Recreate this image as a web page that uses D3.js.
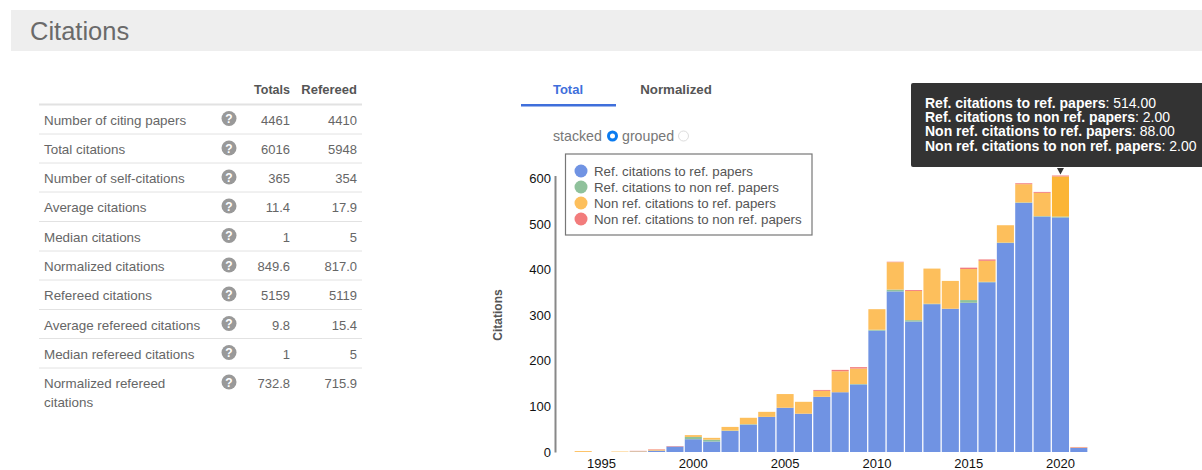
<!DOCTYPE html>
<html>
<head>
<meta charset="utf-8">
<script src="https://cdn.jsdelivr.net/npm/d3@7"></script>
<style>
  body { margin: 0; background: #fff; }
  svg { display: block; font-family: "Liberation Sans", Arial, sans-serif; }
</style>
</head>
<body>
<svg width="1202" height="470"></svg>
<script>
const years = d3.range(1994, 2022);
const refToRef       = [0,0,0,1,3,12,28,23,46,60,77,97,84,121,131,148,266,352,286,324,314,327,372,458,546,516,514,9];
const refToNonRef    = [0,0,0,0,0,0,5,4,1,1,0,0,0,0,0,1,2,4,3,1,0,6,1,1,1,1,2,0];
const nonRefToRef    = [2,0,1,1,2,0,4,4,8,14,11,30,26,13,46,34,45,60,64,77,61,68,46,38,40,51,88,1];
const nonRefToNonRef = [0,0,0,0.5,1,1,0,0,0,0,0,0,0,2,3,3,0,1,2,0,0,3,3,0,2,2,2,1];

const seriesNames = [
  'Ref. citations to ref. papers',
  'Ref. citations to non ref. papers',
  'Non ref. citations to ref. papers',
  'Non ref. citations to non ref. papers'
];
const seriesColors = ['#7093e3', '#8fc19b', '#fdbf5c', '#f27c7c'];
const hoveredYear = 2020;
const yTicks = [0, 100, 200, 300, 400, 500, 600];
const xTicks = [1995, 2000, 2005, 2010, 2015, 2020];

const rowLabels = [
  ['Number of citing papers'], ['Total citations'], ['Number of self-citations'],
  ['Average citations'], ['Median citations'], ['Normalized citations'],
  ['Refereed citations'], ['Average refereed citations'], ['Median refereed citations'],
  ['Normalized refereed', 'citations']
];
const totals   = ['4461', '6016', '365', '11.4', '1', '849.6', '5159', '9.8', '1', '732.8'];
const refereed = ['4410', '5948', '354', '17.9', '5', '817.0', '5119', '15.4', '5', '715.9'];

const svg = d3.select('svg');

// page header
svg.append('rect').attr('x', 11).attr('y', 10).attr('width', 1191).attr('height', 41).attr('fill', '#eeeeee');
svg.append('text').attr('x', 30).attr('y', 40).attr('font-size', 25.5).attr('fill', '#6a6a6a').text('Citations');

// table on the left
const table = svg.append('g');
const rowY = [104.5, 134, 163, 192, 221.5, 251, 280, 309.5, 338.5, 368];

table.append('text').attr('x', 290).attr('y', 94).attr('text-anchor', 'end')
  .attr('font-size', 12.5).attr('font-weight', 'bold').attr('fill', '#555').text('Totals');
table.append('text').attr('x', 357).attr('y', 94).attr('text-anchor', 'end')
  .attr('font-size', 13).attr('font-weight', 'bold').attr('fill', '#555').text('Refereed');

const rows = table.selectAll('g.row')
  .data(rowLabels)
  .enter().append('g')
    .attr('class', 'row')
    .attr('transform', (d, i) => `translate(0,${rowY[i]})`);

rows.append('line')
  .attr('x1', 39).attr('x2', 362)
  .attr('stroke', '#e2e2e2')
  .attr('stroke-width', (d, i) => i === 0 ? 2 : 1);

rows.append('text')
  .attr('x', 44).attr('y', 20)
  .attr('font-size', 13.4).attr('fill', '#666')
  .selectAll('tspan')
  .data(d => d)
  .enter().append('tspan')
    .attr('x', 44)
    .attr('dy', (d, i) => i === 0 ? 0 : 19)
    .text(d => d);

rows.append('circle').attr('cx', 229).attr('cy', 14).attr('r', 7.5).attr('fill', '#999');
rows.append('text')
  .attr('x', 229).attr('y', 18.5).attr('text-anchor', 'middle')
  .attr('font-size', 12).attr('font-weight', 'bold').attr('fill', '#fff').text('?');

rows.append('text')
  .attr('x', 290).attr('y', 20).attr('text-anchor', 'end')
  .attr('font-size', 13).attr('fill', '#666').text((d, i) => totals[i]);
rows.append('text')
  .attr('x', 357).attr('y', 20).attr('text-anchor', 'end')
  .attr('font-size', 13).attr('fill', '#666').text((d, i) => refereed[i]);

// tabs
svg.append('text').attr('x', 568).attr('y', 94).attr('text-anchor', 'middle')
  .attr('font-size', 13).attr('font-weight', 'bold').attr('fill', '#3f6fdb').text('Total');
svg.append('text').attr('x', 676).attr('y', 94).attr('text-anchor', 'middle')
  .attr('font-size', 13.3).attr('font-weight', 'bold').attr('fill', '#555').text('Normalized');
svg.append('rect').attr('x', 521).attr('y', 104).attr('width', 95).attr('height', 2.5).attr('fill', '#3f6fdb');

// stacked / grouped switch
svg.append('text').attr('x', 553).attr('y', 140.5).attr('font-size', 14.2).attr('fill', '#777').text('stacked');
svg.append('circle').attr('cx', 612.5).attr('cy', 136).attr('r', 4).attr('fill', '#fff').attr('stroke', '#0a7bf0').attr('stroke-width', 3);
svg.append('text').attr('x', 622).attr('y', 140.5).attr('font-size', 14.2).attr('fill', '#777').text('grouped');
svg.append('circle').attr('cx', 683.5).attr('cy', 136).attr('r', 5).attr('fill', '#fff').attr('stroke', '#ddd').attr('stroke-width', 1);

// chart
const data = years.map((year, i) => ({
  year,
  [seriesNames[0]]: refToRef[i],
  [seriesNames[1]]: refToNonRef[i],
  [seriesNames[2]]: nonRefToRef[i],
  [seriesNames[3]]: nonRefToNonRef[i]
}));

const stacked = d3.stack().keys(seriesNames)(data);

const xScale = d3.scaleBand()
  .domain(years)
  .range([574, 1088])
  .paddingInner(0.07)
  .paddingOuter(0.035);

const yScale = d3.scaleLinear()
  .domain([0, d3.max(stacked[3], d => d[1])])
  .range([452, 175.5]);

const colorScale = d3.scaleOrdinal().domain(seriesNames).range(seriesColors);

svg.append('g')
  .selectAll('g')
  .data(stacked)
  .enter().append('g')
    .attr('fill', d => colorScale(d.key))
  .selectAll('rect')
  .data(d => d.map(v => ({ key: d.key, v })))
  .enter().append('rect')
    .attr('x', d => xScale(d.v.data.year))
    .attr('width', xScale.bandwidth())
    .attr('y', d => yScale(d.v[1]))
    .attr('height', d => yScale(d.v[0]) - yScale(d.v[1]))
    .attr('fill', d => d.v.data.year === hoveredYear && d.key === seriesNames[2] ? '#fbb535' : null);

const yAxis = d3.axisLeft(yScale).tickValues(yTicks).tickSize(0).tickPadding(4);
const yAxisG = svg.append('g').attr('transform', 'translate(555,0)').call(yAxis);
yAxisG.select('.domain').attr('stroke', '#888').attr('stroke-width', 2);
yAxisG.selectAll('text').attr('font-family', 'inherit').attr('font-size', 13).attr('fill', '#111');

const xAxis = d3.axisBottom(xScale).tickValues(xTicks).tickFormat(d3.format('d')).tickSize(0).tickPadding(7);
const xAxisG = svg.append('g').attr('transform', 'translate(0,452)').call(xAxis);
xAxisG.select('.domain').remove();
xAxisG.selectAll('text').attr('font-family', 'inherit').attr('font-size', 13).attr('fill', '#111');

svg.append('text')
  .attr('transform', 'translate(502,315) rotate(-90)')
  .attr('text-anchor', 'middle')
  .attr('font-size', 12).attr('font-weight', 'bold').attr('fill', '#555')
  .text('Citations');

// legend
const legend = svg.append('g');
legend.append('rect')
  .attr('x', 565.5).attr('y', 154).attr('width', 246.5).attr('height', 81)
  .attr('fill', '#fff').attr('stroke', '#777').attr('stroke-width', 1.2);
const legendRows = legend.selectAll('g.item')
  .data(seriesNames)
  .enter().append('g')
    .attr('class', 'item')
    .attr('transform', (d, i) => `translate(581,${171 + i * 16})`);
legendRows.append('circle').attr('r', 6.5).attr('fill', d => colorScale(d));
legendRows.append('text').attr('x', 13).attr('y', 4.5)
  .attr('font-size', 13.3).attr('fill', '#555').text(d => d);

// tooltip over the hovered bar
const hoveredIndex = years.indexOf(hoveredYear);
const hoveredValues = [refToRef, refToNonRef, nonRefToRef, nonRefToNonRef].map(s => s[hoveredIndex]);
const tipX = xScale(hoveredYear) + xScale.bandwidth() / 2;

const tip = svg.append('g');
tip.append('rect').attr('x', 911).attr('y', 83).attr('width', 295).attr('height', 84)
  .attr('rx', 2).attr('fill', '#333');
tip.append('path')
  .attr('d', `M${tipX - 3.5},168 L${tipX + 3.5},168 L${tipX},174.5 Z`)
  .attr('fill', '#333');
const tipText = tip.selectAll('text')
  .data(seriesNames)
  .enter().append('text')
    .attr('x', 925)
    .attr('y', (d, i) => 108 + i * 14.2)
    .attr('font-size', 14)
    .attr('fill', '#fff');
tipText.append('tspan').attr('font-weight', 'bold').text(d => d);
tipText.append('tspan').text((d, i) => ': ' + hoveredValues[i].toFixed(2));
</script>
</body>
</html>
